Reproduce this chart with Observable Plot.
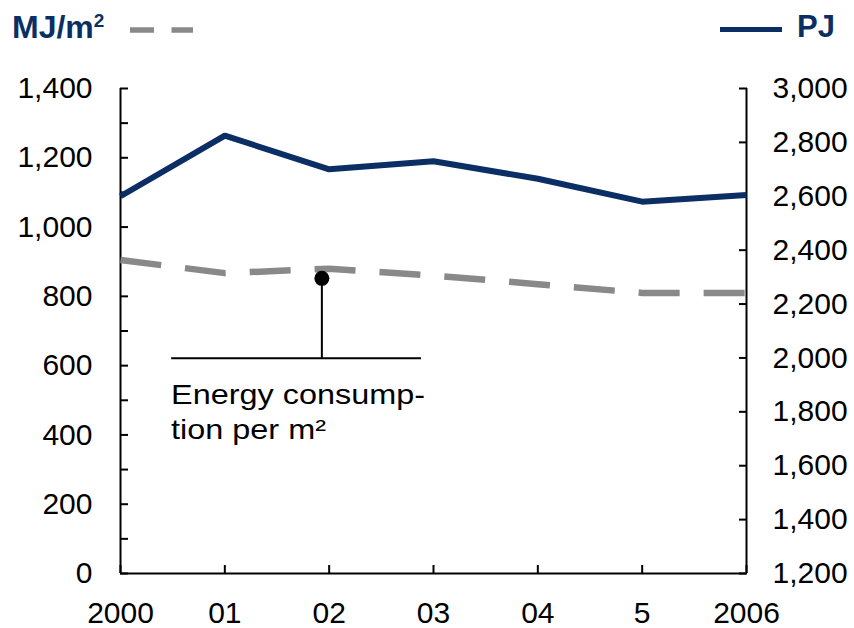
<!DOCTYPE html>
<html>
<head>
<meta charset="utf-8">
<script src="https://cdn.jsdelivr.net/npm/d3@7"></script>
<script src="https://cdn.jsdelivr.net/npm/@observablehq/plot@0.6"></script>
<style>
  html, body { margin: 0; padding: 0; background: #fff; }
  #chart { width: 854px; height: 628px; font-family: "Liberation Sans", Arial, sans-serif; }
  #chart svg { display: block; }
</style>
</head>
<body>
<div id="chart"></div>
<script>
// Years on the horizontal axis and how they are labelled
const years = [2000, 2001, 2002, 2003, 2004, 2005, 2006];
const yearLabels = ["2000", "01", "02", "03", "04", "5", "2006"];

// Energy consumption per square metre (MJ/m², left axis)
const energyPerM2 = [905, 867, 880, 860, 835, 810, 810];
// Total energy consumption (PJ, right axis)
const totalPJ = [2600, 2825, 2700, 2730, 2665, 2580, 2605];

// Axis ticks
const leftTicks = [0, 200, 400, 600, 800, 1000, 1200, 1400];
const leftMinorTicks = [0, 100, 200, 300, 400, 500, 600, 700, 800, 900, 1000, 1100, 1200, 1300, 1400];
const rightTicks = [1200, 1400, 1600, 1800, 2000, 2200, 2400, 2600, 2800, 3000];

// Callout for the per-m² series
const calloutText = "Energy consump-\ntion per m²";
const callout = { year: 2001.93, value: 852, base: 621, from: 2000.49, to: 2002.885, textTop: 560 };

const navy = "#0b2f64";
const grey = "#898989";
const font = "'Liberation Sans', Arial, sans-serif";

// PJ values are drawn on the MJ/m² scale through this mapping
const pjToLeft = d3.scaleLinear().domain([1200, 3000]).range([0, 1400]);
const fmt = d3.format(",");

const rows = years.map((year, i) => ({ year, energy: energyPerM2[i], pj: totalPJ[i] }));

const root = d3.select("#chart");

// Header: units and line keys
const head = root.append("svg").attr("width", 854).attr("height", 58).style("font-family", font);
const leftTitle = head.append("text").attr("x", 12).attr("y", 37.5)
  .attr("fill", navy).attr("font-weight", "bold").attr("font-size", 32);
leftTitle.append("tspan").text("MJ/m");
leftTitle.append("tspan").attr("font-size", 19).attr("dy", -11).text("2");
head.append("line").attr("x1", 130).attr("x2", 193).attr("y1", 30).attr("y2", 30)
  .attr("stroke", grey).attr("stroke-width", 5.5).attr("stroke-dasharray", "24 17.5");
head.append("line").attr("x1", 720).attr("x2", 782).attr("y1", 29.5).attr("y2", 29.5)
  .attr("stroke", navy).attr("stroke-width", 5);
head.append("text").attr("x", 797).attr("y", 37).attr("fill", navy)
  .attr("font-weight", "bold").attr("font-size", 31).text("PJ");

const chart = Plot.plot({
  width: 854,
  height: 570,
  marginTop: 30,
  marginBottom: 55,
  marginLeft: 120,
  marginRight: 108,
  style: { fontFamily: font, fontSize: "30px", color: "#000", background: "#fff" },
  x: { domain: d3.extent(years), label: null },
  y: { domain: [0, 1400], label: null },
  marks: [
    // inward tick marks
    Plot.axisY({ ticks: leftMinorTicks, tickSize: -8, strokeWidth: 2, tickFormat: () => "" }),
    Plot.axisY({ anchor: "right", ticks: rightTicks.map(pjToLeft), tickSize: -8, strokeWidth: 2, tickFormat: () => "" }),
    Plot.axisX({ ticks: years, tickSize: -8, strokeWidth: 2, tickFormat: () => "" }),
    // tick labels
    Plot.axisY({ ticks: leftTicks, tickSize: 0, tickPadding: 28, fontSize: 30, tickFormat: fmt }),
    Plot.axisY({ anchor: "right", ticks: rightTicks.map(pjToLeft), tickSize: 0, tickPadding: 26, fontSize: 30,
      tickFormat: d => fmt(Math.round(pjToLeft.invert(d))) }),
    Plot.axisX({ ticks: years, tickSize: 0, tickPadding: 28, fontSize: 30,
      tickFormat: d => yearLabels[years.indexOf(d)] }),
    // frame: both vertical axes and the baseline
    Plot.ruleX(d3.extent(years), { stroke: "#000", strokeWidth: 2 }),
    Plot.ruleY([0], { stroke: "#000", strokeWidth: 2 }),
    // series
    Plot.line(rows, { x: "year", y: "energy", stroke: grey, strokeWidth: 6.5,
      strokeDasharray: "41 24", strokeLinecap: "butt", strokeLinejoin: "miter" }),
    Plot.line(rows, { x: "year", y: d => pjToLeft(d.pj), stroke: navy, strokeWidth: 6,
      strokeLinecap: "butt", strokeLinejoin: "miter" }),
    // callout
    Plot.ruleY([callout], { y: "base", x1: "from", x2: "to", stroke: "#000", strokeWidth: 2 }),
    Plot.ruleX([callout], { x: "year", y1: "base", y2: "value", stroke: "#000", strokeWidth: 2 }),
    Plot.dot([callout], { x: "year", y: "value", r: 7.5, fill: "#000", stroke: null }),
    Plot.text([calloutText], { x: () => callout.from, y: () => callout.textTop, text: d => d,
      textAnchor: "start", lineAnchor: "top", lineHeight: 1.296, fontSize: 27, fill: "#000" })
  ]
});

root.node().appendChild(chart);

// widen the callout label around its left edge
const x0 = chart.scale("x").apply(callout.from);
d3.select(chart).selectAll("text")
  .filter(function () { return this.textContent.startsWith("Energy"); })
  .each(function () {
    d3.select(this.parentNode)
      .attr("transform", `translate(${x0},0) scale(1.2,1) translate(${-x0},0)`);
  });
</script>
</body>
</html>
